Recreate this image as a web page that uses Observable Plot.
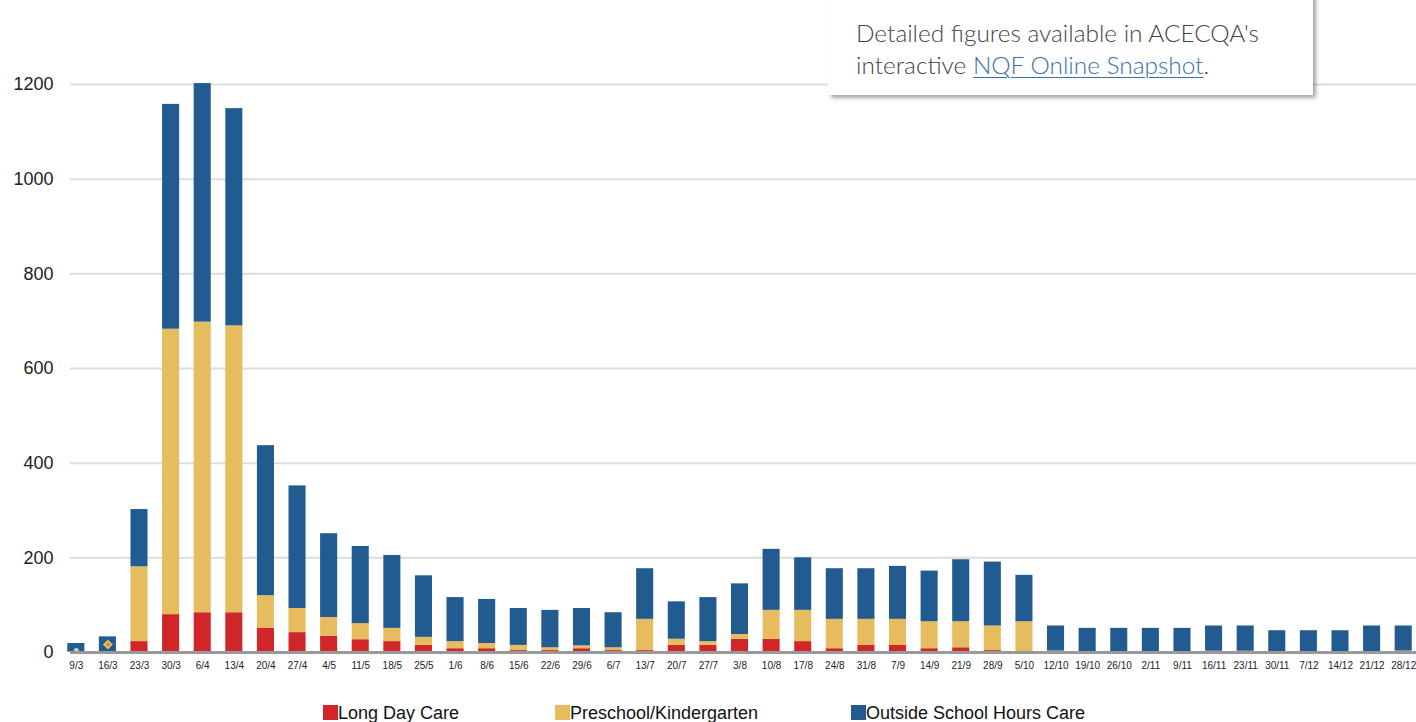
<!DOCTYPE html>
<html>
<head>
<meta charset="utf-8">
<script src="https://cdn.jsdelivr.net/npm/d3@7"></script>
<script src="https://cdn.jsdelivr.net/npm/@observablehq/plot@0.6"></script>
<style>
  html, body { margin: 0; padding: 0; background: #fff; overflow: hidden; }
  #wrap { position: relative; width: 1416px; height: 722px; font-family: "Liberation Sans", Arial, sans-serif; }
  #chart { position: absolute; left: 0; top: 0; }
  .note { position: absolute; left: 828px; top: -10px; width: 485px; height: 105px; background: #fff;
          box-shadow: 3px 3px 4px rgba(0,0,0,0.35); box-sizing: border-box; padding: 27px 0 0 28px;
          font-family: Lato, "Open Sans", sans-serif; font-weight: 300; font-size: 24.4px; line-height: 32px; color: #444; }
  .note a { color: #3a70a8; text-decoration: underline; text-decoration-thickness: 1px; text-underline-offset: 3px; }
  .leg { position: absolute; top: 704px; font-size: 18px; color: #111; line-height: 18px; white-space: nowrap; }
  .leg span.sw { display: inline-block; width: 15px; height: 15px; vertical-align: top; margin-top: 1px; }
</style>
</head>
<body>
<div id="wrap">
  <div id="chart"></div>
  <div class="note">Detailed figures available in ACECQA's<br>interactive <a href="#">NQF Online Snapshot</a>.</div>
  <div id="legend"></div>
</div>
<script>
const weeks = ["9/3","16/3","23/3","30/3","6/4","13/4","20/4","27/4","4/5","11/5","18/5","25/5","1/6","8/6","15/6","22/6","29/6","6/7","13/7","20/7","27/7","3/8","10/8","17/8","24/8","31/8","7/9","14/9","21/9","28/9","5/10","12/10","19/10","26/10","2/11","9/11","16/11","23/11","30/11","7/12","14/12","21/12","28/12"];
const longDayCare = [0,0,23,80,84,84,51,42,34,27,23,15,8,8,4,4,8,4,4,15,15,28,28,23,8,15,15,8,10,4,0,0,0,0,0,0,3,3,0,0,0,0,1];
const preschool   = [1,2,158,603,614,606,69,51,40,34,28,17,15,11,11,6,6,6,66,13,8,10,61,66,62,55,55,57,55,52,65,3,0,2,2,0,0,0,0,0,0,0,2];
const oshc        = [18,31,121,475,504,459,317,259,177,163,154,130,93,93,78,79,79,74,107,79,93,107,129,111,107,107,112,107,131,135,98,53,51,49,49,51,53,53,46,46,46,56,53];
const seriesNames = ["Long Day Care","Preschool/Kindergarten","Outside School Hours Care"];
const seriesColors = ["#d0262a","#e6bc5f","#215b8f"];
const yTicks = [0,200,400,600,800,1000,1200];
// small marker icons drawn inside the first two bars
const markerWeeks = ["9/3","16/3"];
const markerValues = [4, 17];

const rows = [];
weeks.forEach((w,i) => {
  rows.push({week: w, series: seriesNames[0], value: longDayCare[i]});
  rows.push({week: w, series: seriesNames[1], value: preschool[i]});
  rows.push({week: w, series: seriesNames[2], value: oshc[i]});
});
const markers = markerWeeks.map((w,i) => ({week: w, value: markerValues[i]}));

const plot = Plot.plot({
  width: 1416,
  height: 690,
  marginLeft: 60,
  marginRight: 0,
  marginTop: 84,
  marginBottom: 38,
  style: {fontFamily: "'Liberation Sans', Arial, sans-serif", background: "transparent", overflow: "hidden"},
  x: {domain: weeks, range: [60, 1419], round: false, paddingInner: 0.46, paddingOuter: 0.23, label: null},
  y: {domain: [0, 1200], label: null},
  color: {domain: seriesNames, range: seriesColors},
  marks: [
    Plot.ruleY(yTicks.filter(d => d > 0), {y: d => d, stroke: "#dddddd", strokeWidth: 2, insetLeft: 10}),
    Plot.barY(rows, {x: "week", y: "value", fill: "series", order: seriesNames}),
    Plot.dot(markers.slice(0,1), {x: "week", y: "value", r: 2.5, fill: "#c8ccd4"}),
    Plot.dot(markers.slice(1), {x: "week", y: "value", r: 4.5, symbol: "diamond2", fill: "#e6bc5f"}),
    Plot.dot(markers.slice(1), {x: "week", y: "value", r: 1.8, fill: "#d9822b"}),
    Plot.ruleY([0], {stroke: "#999999", strokeWidth: 3, insetLeft: 10}),
    Plot.axisY(yTicks, {tickSize: 0, tickPadding: 7, fontSize: 18, fill: "#222", label: null, tickFormat: d => String(d)}),
    Plot.axisX({tickSize: 0, tickPadding: 9, fontSize: 10, fill: "#222", label: null})
  ]
});
document.getElementById("chart").appendChild(plot);

const legX = [323, 555, 851];
const leg = document.getElementById("legend");
seriesNames.forEach((s, i) => {
  const d = document.createElement("div");
  d.className = "leg";
  d.style.left = legX[i] + "px";
  d.innerHTML = `<span class="sw" style="background:${seriesColors[i]}"></span>${s}`;
  leg.appendChild(d);
});
</script>
</body>
</html>
